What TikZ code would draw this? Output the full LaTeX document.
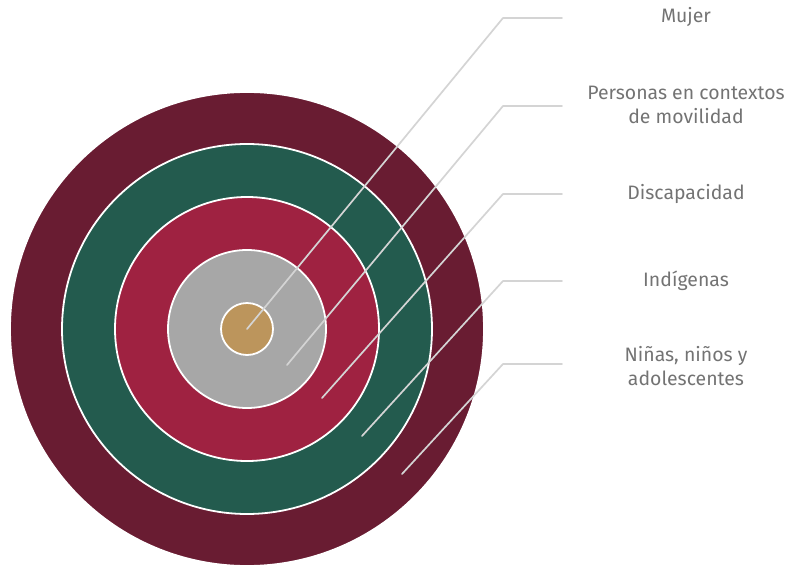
\documentclass[tikz,border=0pt]{standalone}
\usepackage{fontspec}
\setmainfont{Fira Sans}
\usetikzlibrary{calc}
\definecolor{wine}{HTML}{691C32}
\definecolor{pine}{HTML}{235B4E}
\definecolor{crimson}{HTML}{9F2241}
\definecolor{stone}{HTML}{A7A7A7}
\definecolor{sand}{HTML}{BC955C}
\definecolor{leadgray}{HTML}{D4D4D4}
\definecolor{labgray}{HTML}{737373}
\tikzset{
  ring/.style={draw=white, line width=1.8pt},
  lead/.style={draw=leadgray, line width=1.7pt, line cap=round, line join=round},
  lab/.style={text=labgray, font=\fontsize{19.5}{24}\selectfont, align=center, inner sep=0pt},
}

\begin{document}
\begin{tikzpicture}[x=1bp,y=-1bp]
  \useasboundingbox (0,0) rectangle (790,565);
  \coordinate (O) at (247,329);
  % rings, outer to inner
  \draw[ring,fill=wine] (O) circle (237bp);
  \draw[ring,fill=pine] (O) circle (185bp);
  \draw[ring,fill=crimson] (O) circle (132bp);
  \draw[ring,fill=stone] (O) circle (79bp);
  \draw[ring,fill=sand] (O) circle (26bp);
  % labels
  \node[lab] (mujer) at (686,17) {Mujer};
  \node[lab] (movil) at (686,105) {Personas en contextos\\de movilidad};
  \node[lab] (disc) at (686,194) {Discapacidad};
  \node[lab] (indi) at (686,281) {Indígenas};
  \node[lab] (nna) at (686,366) {Niñas, niños y\\adolescentes};
  % leader points
  \coordinate (p1) at (247,329);
  \coordinate (p2) at (287,365);
  \coordinate (p3) at (322,398);
  \coordinate (p4) at (362,436);
  \coordinate (p5) at (402,474);
  \coordinate (e1) at (503,18);
  \coordinate (e2) at (503,106);
  \coordinate (e3) at (503,194);
  \coordinate (e4) at (503,281);
  \coordinate (e5) at (503,364);
  \draw[lead] (p1) -- (e1) -- (e1 -| 562,0);
  \draw[lead] (p2) -- (e2) -- (e2 -| 562,0);
  \draw[lead] (p3) -- (e3) -- (e3 -| 562,0);
  \draw[lead] (p4) -- (e4) -- (e4 -| 562,0);
  \draw[lead] (p5) -- (e5) -- (e5 -| 562,0);
\end{tikzpicture}
\end{document}
